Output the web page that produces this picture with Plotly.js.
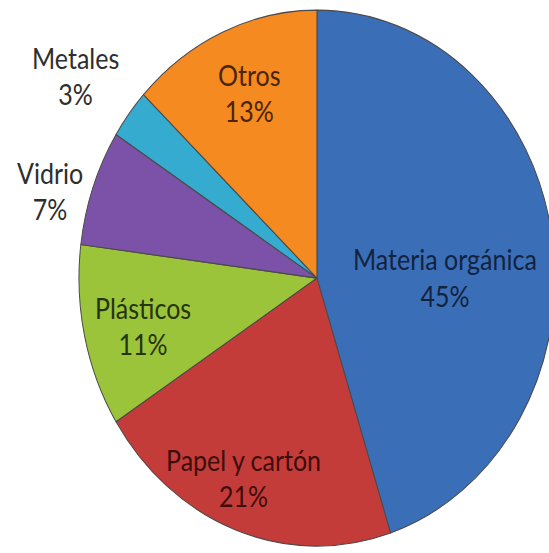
<!DOCTYPE html>
<html>
<head>
<meta charset="utf-8">
<script src="https://cdn.plot.ly/plotly-3.0.1.min.js"></script>
<style>
html,body{margin:0;padding:0;background:#fff;overflow:hidden;width:549px;height:553px;}
#chart{transform-origin:0 0;transform:scaleY(1.126);}
</style>
</head>
<body>
<div id="chart"></div>
<script>
const categories = ['Materia orgánica','Papel y cartón','Plásticos','Vidrio','Metales','Otros'];
const values = [45, 21, 11, 7, 3, 13];
const sliceColors = ['#3a6fb8','#c43c39','#9bc43a','#7b52a8','#36abd0','#f58a20'];
const textColors = ['#13233f','#3d0d0b','#27330c','#2e2e2e','#2e2e2e','#4a2406'];

// label placement (paper fractions), one per category
const labelX = [0.795, 0.434, 0.255, 0.089, 0.134, 0.446];
const labelY = [0.497, 0.135, 0.410, 0.654, 0.862, 0.832];

const trace = {
  type: 'pie',
  labels: categories,
  values: values,
  sort: false,
  direction: 'clockwise',
  rotation: 0,
  marker: {colors: sliceColors, line: {color: '#4a4a4a', width: 1}},
  textinfo: 'none',
  hoverinfo: 'none',
  domain: {x: [0.141, 0.991], y: [0.012, 0.982]},
  showlegend: false
};

const annotations = categories.map((c, i) => ({
  xref: 'paper', yref: 'paper',
  x: labelX[i], y: labelY[i],
  xanchor: 'center', yanchor: 'middle',
  text: c + '<br>' + values[i] + '%',
  showarrow: false,
  align: 'center',
  font: {family: 'Lato, "Open Sans", sans-serif', size: 25, color: textColors[i]}
}));

const layout = {
  width: 560, height: 491,
  margin: {l: 0, r: 0, t: 0, b: 0},
  paper_bgcolor: '#ffffff',
  showlegend: false,
  annotations: annotations
};

Plotly.newPlot('chart', [trace], layout, {displayModeBar: false, staticPlot: true});
</script>
</body>
</html>
